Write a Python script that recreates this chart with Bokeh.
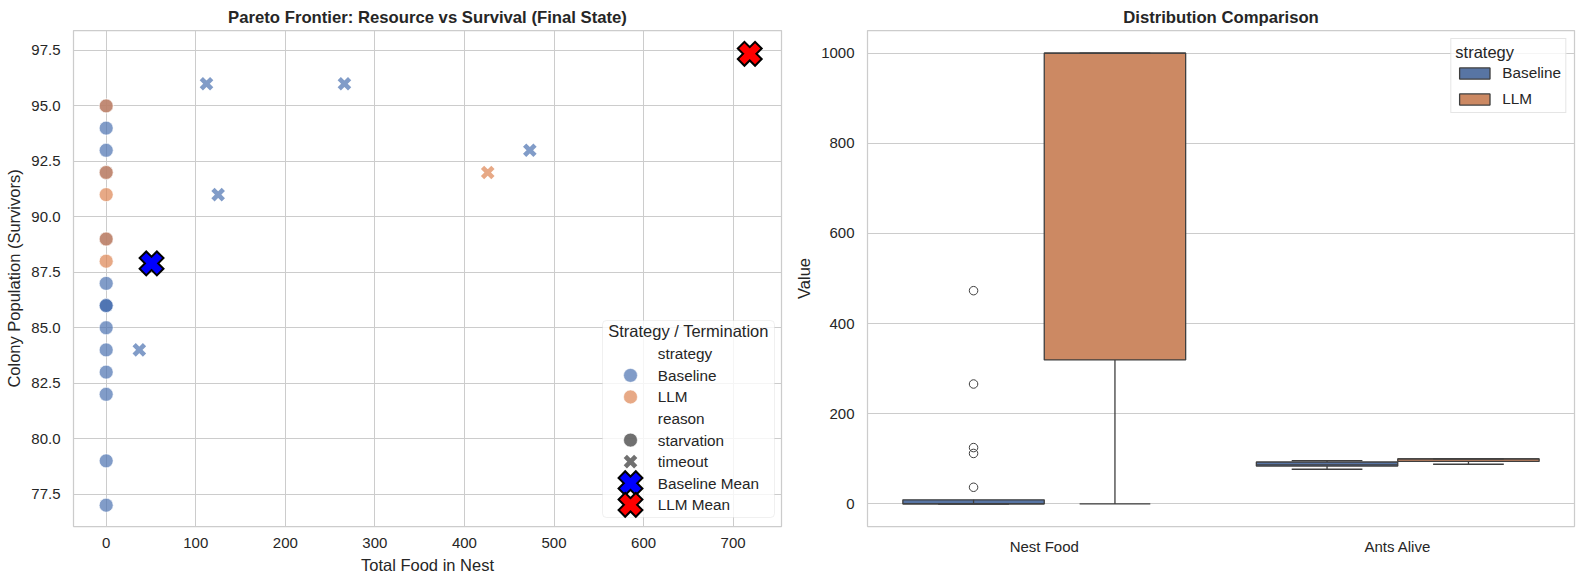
import numpy as np
from bokeh.plotting import figure
from bokeh.layouts import row
from bokeh.models import (Range1d, FixedTicker, NumeralTickFormatter, BoxAnnotation,
                          Label, Legend, LegendItem)
from bokeh.embed import file_html
from bokeh.resources import INLINE

# ---- final-state measurements, one entry per run ----
strategies = ["Baseline", "LLM"]
metrics = ["Nest Food", "Ants Alive"]

baseline_food = [0] * 15 + [112, 266, 125, 473, 37]
baseline_ants = [95, 94, 93, 92, 89, 87, 86, 86, 86, 85, 84, 83, 82, 79, 77,
                 96, 96, 91, 93, 84]
baseline_reason = ["starvation"] * 15 + ["timeout"] * 5

llm_food = [0, 0, 0, 0, 0, 426, 990, 975, 980] + [1000] * 11
llm_ants = [95, 92, 91, 89, 88, 92] + [100] * 14
llm_reason = ["starvation"] * 5 + ["timeout"] * 15

food_ticks = [0, 100, 200, 300, 400, 500, 600, 700]
pop_ticks = [77.5, 80.0, 82.5, 85.0, 87.5, 90.0, 92.5, 95.0, 97.5]
value_ticks = [0, 200, 400, 600, 800, 1000]

# ---- styling ----
FONT = "Liberation Sans"
INK = "#262626"
RULE = "#cccccc"
HUE = {"Baseline": "#4c72b0", "LLM": "#dd8452"}
BOX_FILL = {"Baseline": "#5875a4", "LLM": "#cc8963"}
MEAN_COLOR = {"Baseline": "blue", "LLM": "red"}
BOX_LINE = "#3f3f3f"
FW1, FW2, FH = 708, 707, 496


def style(p, xgrid=True):
    p.outline_line_color = RULE
    p.outline_line_width = 1.25
    p.background_fill_color = "white"
    p.border_fill_color = "white"
    for ax in p.axis:
        ax.axis_line_color = None
        ax.major_tick_line_color = None
        ax.minor_tick_line_color = None
        ax.major_tick_in = 0
        ax.major_tick_out = 0
        ax.minor_tick_in = 0
        ax.minor_tick_out = 0
        ax.major_label_text_font = FONT
        ax.major_label_text_font_size = "15px"
        ax.major_label_text_color = INK
        ax.axis_label_text_font = FONT
        ax.axis_label_text_font_size = "16.5px"
        ax.axis_label_text_font_style = "normal"
        ax.axis_label_text_color = INK
    for ax in p.xaxis:
        ax.major_label_standoff = 11
        ax.axis_label_standoff = 5
    for ax in p.yaxis:
        ax.major_label_standoff = 13
        ax.axis_label_standoff = 5
    p.xgrid.grid_line_color = RULE if xgrid else None
    p.ygrid.grid_line_color = RULE
    p.xgrid.grid_line_width = 1
    p.ygrid.grid_line_width = 1
    p.title.align = "center"
    p.title.text_font = FONT
    p.title.text_font_size = "16.7px"
    p.title.text_font_style = "bold"
    p.title.text_color = INK
    p.title.standoff = 8


runs = {
    "Baseline": (baseline_food, baseline_ants, baseline_reason),
    "LLM": (llm_food, llm_ants, llm_reason),
}

# ---- left: survivors vs stored food ----
p1 = figure(title="Pareto Frontier: Resource vs Survival (Final State)",
            frame_width=FW1, frame_height=FH,
            x_range=Range1d(-36.5, 754), y_range=Range1d(76.04, 98.4),
            min_border_left=73, min_border_right=9, min_border_top=30, min_border_bottom=58,
            output_backend="svg", toolbar_location=None)
p1.xaxis.ticker = FixedTicker(ticks=food_ticks)
p1.yaxis.ticker = FixedTicker(ticks=pop_ticks)
p1.yaxis.formatter = NumeralTickFormatter(format="0.0")
p1.xaxis.axis_label = "Total Food in Nest"
p1.yaxis.axis_label = "Colony Population (Survivors)"
style(p1)

# Bokeh's "x" marker fits its arms inside a circle of diameter `size`
CIRCLE = dict(marker="circle", size=13.9, fill_alpha=0.7,
              line_color="white", line_alpha=0.7, line_width=0.8)
CROSS = dict(marker="x", size=14.7, line_alpha=0.7, line_width=4.6)
MEAN_EDGE = dict(marker="x", size=26.4, line_color="black", line_width=11.4)
MEAN_FACE = dict(marker="x", size=22.4, line_width=7.4)

for name in strategies:
    food, ants, reason = runs[name]
    sx = [f for f, r in zip(food, reason) if r == "starvation"]
    sy = [a for a, r in zip(ants, reason) if r == "starvation"]
    tx = [f for f, r in zip(food, reason) if r == "timeout"]
    ty = [a for a, r in zip(ants, reason) if r == "timeout"]
    p1.scatter(sx, sy, fill_color=HUE[name], **CIRCLE)
    p1.scatter(tx, ty, line_color=HUE[name], **CROSS)

for name in strategies:
    food, ants, _ = runs[name]
    mx, my = float(np.mean(food)), float(np.mean(ants))
    p1.scatter([mx], [my], **MEAN_EDGE)
    p1.scatter([mx], [my], line_color=MEAN_COLOR[name], **MEAN_FACE)

# legend panel laid out in frame pixels (origin bottom-left of the frame)
p1.extra_x_ranges = {"px": Range1d(0, FW1)}
p1.extra_y_ranges = {"px": Range1d(0, FH)}
PX = dict(x_range_name="px", y_range_name="px")
LEG_L, LEG_R, LEG_B, LEG_T = 529, 701, 9, 206
ROW0, ROW_STEP = 172.7, 21.57
SWATCH_X, TEXT_X = 557, 584.3

p1.add_layout(BoxAnnotation(left=LEG_L, right=LEG_R, bottom=LEG_B, top=LEG_T,
                            fill_color="white", fill_alpha=0.8,
                            line_color=RULE, line_width=1, border_radius=4, **PX))
p1.add_layout(Label(x=(LEG_L + LEG_R) / 2, y=195.3, text="Strategy / Termination",
                    text_align="center", text_baseline="middle",
                    text_font=FONT, text_font_size="16.5px", text_color=INK, **PX))

legend_rows = [
    ("strategy", None),
    ("Baseline", [dict(fill_color=HUE["Baseline"], **CIRCLE)]),
    ("LLM", [dict(fill_color=HUE["LLM"], **CIRCLE)]),
    ("reason", None),
    ("starvation", [dict(fill_color="#333333", **CIRCLE)]),
    ("timeout", [dict(line_color="#333333", **CROSS)]),
    ("Baseline Mean", [MEAN_EDGE, dict(line_color=MEAN_COLOR["Baseline"], **MEAN_FACE)]),
    ("LLM Mean", [MEAN_EDGE, dict(line_color=MEAN_COLOR["LLM"], **MEAN_FACE)]),
]
for i, (text, swatches) in enumerate(legend_rows):
    yy = ROW0 - i * ROW_STEP
    for sw in swatches or []:
        p1.scatter([SWATCH_X], [yy], level="overlay", **sw, **PX)
    p1.add_layout(Label(x=TEXT_X, y=yy, text=text, text_align="left", text_baseline="middle",
                        text_font=FONT, text_font_size="15.3px", text_color=INK, **PX))

# ---- right: box plots per metric ----
values = {
    ("Baseline", "Nest Food"): baseline_food,
    ("Baseline", "Ants Alive"): baseline_ants,
    ("LLM", "Nest Food"): llm_food,
    ("LLM", "Ants Alive"): llm_ants,
}


def box_stats(vals):
    v = np.sort(np.asarray(vals, dtype=float))
    q1, med, q3 = np.percentile(v, [25, 50, 75])
    iqr = q3 - q1
    lo = v[v >= q1 - 1.5 * iqr].min()
    hi = v[v <= q3 + 1.5 * iqr].max()
    out = v[(v < lo) | (v > hi)]
    return q1, med, q3, lo, hi, out


p2 = figure(title="Distribution Comparison", frame_width=FW2, frame_height=FH,
            x_range=Range1d(-0.5, 1.5), y_range=Range1d(-50, 1050),
            min_border_left=77, min_border_right=10, min_border_top=30, min_border_bottom=58,
            output_backend="svg", toolbar_location=None)
p2.xaxis.ticker = FixedTicker(ticks=list(range(len(metrics))))
p2.xaxis.major_label_overrides = {i: m for i, m in enumerate(metrics)}
p2.yaxis.ticker = FixedTicker(ticks=value_ticks)
p2.yaxis.axis_label = "Value"
style(p2, xgrid=False)

HALF = 0.2
LINE = dict(line_color=BOX_LINE, line_width=1.3)
box_renderers = {}
for k, name in enumerate(strategies):
    off = (k - (len(strategies) - 1) / 2) * 2 * HALF
    centers, q1s, meds, q3s, los, his = [], [], [], [], [], []
    ox, oy = [], []
    for j, m in enumerate(metrics):
        q1, med, q3, lo, hi, out = box_stats(values[(name, m)])
        c = j + off
        centers.append(c); q1s.append(q1); meds.append(med); q3s.append(q3)
        los.append(lo); his.append(hi)
        ox += [c] * len(out); oy += list(out)
    left = [c - HALF for c in centers]
    right = [c + HALF for c in centers]
    box_renderers[name] = p2.quad(left=left, right=right, bottom=q1s, top=q3s,
                                  fill_color=BOX_FILL[name], **LINE)
    p2.segment(centers, q3s, centers, his, **LINE)
    p2.segment(centers, q1s, centers, los, **LINE)
    cl = [c - HALF / 2 for c in centers]
    cr = [c + HALF / 2 for c in centers]
    p2.segment(cl, his, cr, his, **LINE)
    p2.segment(cl, los, cr, los, **LINE)
    p2.segment(left, meds, right, meds, **LINE)
    p2.scatter(ox, oy, marker="circle", size=8.5, fill_color=None,
               line_color=BOX_LINE, line_width=1)

leg = Legend(items=[LegendItem(label=n, renderers=[box_renderers[n]]) for n in strategies],
             title="strategy", location="top_right", orientation="vertical")
leg.margin = 8
leg.padding = 4
leg.spacing = 8
leg.glyph_width = 38
leg.glyph_height = 14
leg.label_height = 14
leg.label_standoff = 9
leg.title_standoff = 2
leg.border_line_color = RULE
leg.border_line_width = 1
leg.background_fill_alpha = 0.8
leg.label_text_font = FONT
leg.label_text_font_size = "15.3px"
leg.label_text_color = INK
leg.title_text_font = FONT
leg.title_text_font_size = "16.5px"
leg.title_text_font_style = "normal"
leg.title_text_color = INK
p2.add_layout(leg)

layout = row(p1, p2)
open("out.html", "w").write(file_html(layout, INLINE))
